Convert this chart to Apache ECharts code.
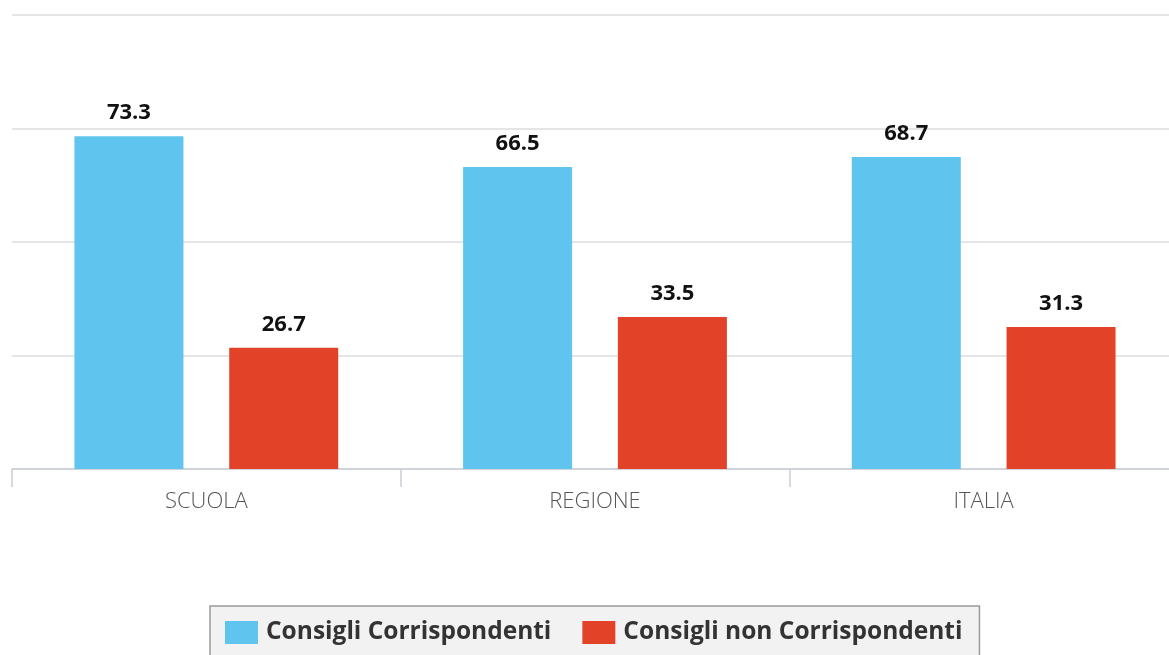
<!DOCTYPE html>
<html>
<head>
<meta charset="utf-8">
<script src="https://cdn.jsdelivr.net/npm/echarts@6/dist/echarts.min.js"></script>
<style>
  html, body { margin: 0; padding: 0; background: #fff; overflow: hidden; }
  /* the drawing surface runs a little past the right edge of the window */
  #chart { width: 1178px; height: 655px; }
</style>
</head>
<body>
<div id="chart"></div>
<script>
// Categories and values for each series
const categories = ['SCUOLA', 'REGIONE', 'ITALIA'];
const corrispondenti = [73.3, 66.5, 68.7];
const nonCorrispondenti = [26.7, 33.5, 31.3];
const seriesNames = ['Consigli Corrispondenti', 'Consigli non Corrispondenti'];

const FONT = '"Open Sans", "Noto Sans", sans-serif';

const chart = echarts.init(document.getElementById('chart'), null, { renderer: 'canvas' });

const labelStyle = {
  show: true,
  position: 'top',
  distance: 12,
  fontFamily: FONT,
  fontWeight: 'bold',
  fontSize: 22,
  color: '#111',
  formatter: p => p.value.toFixed(1)
};

chart.setOption({
  animation: false,
  textStyle: { fontFamily: FONT },
  grid: { left: 12, right: 0, top: 15, bottom: 186, containLabel: false },
  legend: {
    left: 210,
    top: 606,
    padding: [14, 17, 14, 15],
    backgroundColor: '#f2f2f2',
    borderColor: '#9a9a9a',
    borderWidth: 1.5,
    borderRadius: 0,
    itemWidth: 33,
    itemHeight: 23,
    itemGap: 31,
    itemStyle: { borderWidth: 0 },
    textStyle: { fontFamily: FONT, fontWeight: 'bold', fontSize: 24.5, color: '#333', padding: [0, 0, 0, 3] },
    icon: 'rect',
    data: seriesNames
  },
  xAxis: {
    type: 'category',
    data: categories,
    axisLine: { lineStyle: { color: '#c8ced8', width: 1.5 } },
    axisTick: { show: true, length: 18, lineStyle: { color: '#c8ced8', width: 1.5 } },
    axisLabel: { fontFamily: FONT, fontSize: 22, fontWeight: 300, color: '#555', margin: 22 }
  },
  yAxis: {
    type: 'value',
    min: 0,
    max: 100,
    interval: 25,
    axisLabel: { show: false },
    axisLine: { show: false },
    axisTick: { show: false },
    splitLine: { lineStyle: { color: '#dcdcdc', width: 1.5 } }
  },
  series: [
    {
      name: seriesNames[0],
      type: 'bar',
      data: corrispondenti,
      barWidth: 109,
      barGap: '42%',
      itemStyle: { color: '#5fc4ee' },
      label: labelStyle
    },
    {
      name: seriesNames[1],
      type: 'bar',
      data: nonCorrispondenti,
      barWidth: 109,
      itemStyle: { color: '#e24328' },
      label: labelStyle
    }
  ]
});
</script>
</body>
</html>
